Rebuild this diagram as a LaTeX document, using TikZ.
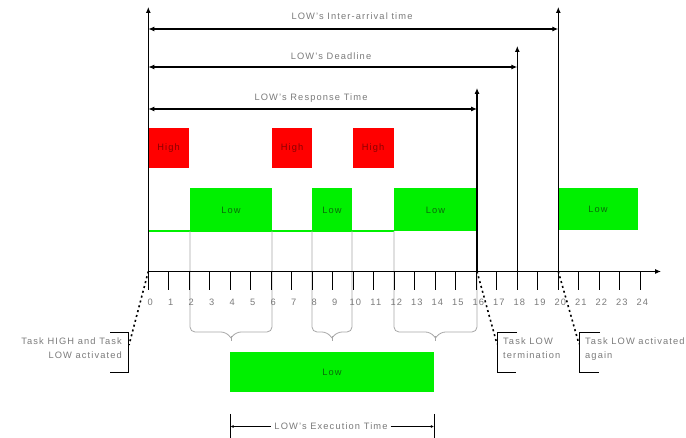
\documentclass[tikz,border=0pt]{standalone}
\usepackage{fontspec}
\setmainfont{Liberation Sans}[LetterSpace=12]
\usetikzlibrary{arrows.meta}
\definecolor{hired}{HTML}{FF0000}
\definecolor{logreen}{HTML}{00F000}
\definecolor{txtgray}{HTML}{7A7A7A}
\definecolor{hitxt}{HTML}{8A0000}
\definecolor{lotxt}{HTML}{0A6A0A}
\tikzset{
  lbl/.style={font=\fontsize{9.3}{11}\selectfont, text=txtgray, inner sep=1pt},
  hibox/.style={fill=hired, draw=none, font=\fontsize{9.3}{11}\selectfont, text=hitxt},
  lobox/.style={fill=logreen, draw=none, font=\fontsize{9.3}{11}\selectfont, text=lotxt},
  axisline/.style={line width=1.1pt, -{Latex[length=6pt,width=5pt]}},
  dimarrow/.style={line width=1.1pt, {Latex[length=6pt,width=5pt]}-{Latex[length=6pt,width=5pt]}},
  tickline/.style={line width=1pt},
  guide/.style={draw=black!35, line width=0.8pt},
  callout/.style={line width=1.6pt, dash pattern=on 2pt off 3pt},
  bracketline/.style={line width=1pt},
  note/.style={font=\fontsize{9.3}{13.5}\selectfont, text=txtgray, inner sep=0pt, align=left},
}
\begin{document}
\begin{tikzpicture}[x=1pt, y=-1pt]
\useasboundingbox (0,0) rectangle (686,438);
% coordinates
\coordinate (O) at (148.3,271.5);
\coordinate (Ytop) at (148.3,7);
\coordinate (Xend) at (661,271.5);
% green baseline
\draw[logreen, line width=1.2pt] (148.3,231) -- (394,231);
% grey guides and braces
\foreach \xa/\xb in {190/272, 312/352, 394/477}{
  \pgfmathsetmacro{\xm}{(\xa+\xb)/2}
  \draw[guide, rounded corners=5pt] (\xa,231) -- (\xa,332) -- (\xm-5,332) -- (\xm,338);
  \draw[guide, rounded corners=5pt] (\xb,231) -- (\xb,332) -- (\xm+5,332) -- (\xm,338);
  \draw[guide] (\xm,336) -- (\xm,341);
}
% boxes
\node[hibox, minimum width=41pt, minimum height=40pt] (h1) at (168.5,148) {High};
\node[hibox, minimum width=40pt, minimum height=40pt] (h2) at (292,148) {High};
\node[hibox, minimum width=41pt, minimum height=40pt] (h3) at (373,148) {High};
\node[lobox, minimum width=82pt, minimum height=43pt] (l1) at (231,210) {Low};
\node[lobox, minimum width=40pt, minimum height=43pt] (l2) at (332,210) {Low};
\node[lobox, minimum width=83pt, minimum height=43pt] (l3) at (435.5,210) {Low};
\node[lobox, minimum width=80pt, minimum height=42pt] (l4) at (598,209.5) {Low};
\node[lobox, minimum width=204pt, minimum height=40pt] (lx) at (332,372.5) {Low};
% axes
\draw[axisline] (O) -- (Ytop);
\draw[axisline] (O) -- (Xend);
% ticks and numbers
\foreach \i in {0,...,24}{
  \draw[tickline] (148.3+20.5*\i,271.5) -- (148.3+20.5*\i,290);
  \node[lbl] (n\i) at (148.3+20.5*\i+2,302.5) {\i};
}
% vertical markers
\coordinate (v16t) at (477,88);
\coordinate (v18t) at (517.3,46);
\coordinate (v20t) at (558.3,7);
\draw[axisline] (477,271.5) -- (v16t);
\draw[axisline] (517.3,271.5) -- (v18t);
\draw[axisline] (558.3,271.5) -- (v20t);
% dimension arrows
\coordinate (a1l) at (148.3,29);
\coordinate (a1r) at (558.3,29);
\coordinate (a2l) at (148.3,67);
\coordinate (a2r) at (517.3,67);
\coordinate (a3l) at (148.3,109);
\coordinate (a3r) at (477,109);
\draw[dimarrow] (a1l) -- (a1r);
\draw[dimarrow] (a2l) -- (a2r);
\draw[dimarrow] (a3l) -- (a3r);
\node[lbl] (t1) at (352,16) {LOW's Inter-arrival time};
\node[lbl] (t2) at (331,56) {LOW's Deadline};
\node[lbl] (t3) at (311,98) {LOW's Response Time};
% execution time
\coordinate (e1t) at (230,414);
\coordinate (e1b) at (230,438);
\coordinate (e2t) at (434.3,414);
\coordinate (e2b) at (434.3,438);
\draw[bracketline] (e1t) -- (e1b);
\draw[bracketline] (e2t) -- (e2b);
\node[lbl, fill=white, inner sep=3pt] (et) at (331,426.5) {LOW's Execution Time};
\draw[line width=1pt, {Latex[length=3pt,width=3pt]}-] (230.5,426.5) -- (et.west);
\draw[line width=1pt, -{Latex[length=3pt,width=3pt]}] (et.east) -- (433.8,426.5);
% callouts
\coordinate (c1) at (129,345);
\coordinate (c2) at (497,344);
\coordinate (c3) at (579,344);
\draw[callout] (O) -- (c1);
\draw[callout] (477,271.5) -- (c2);
\draw[callout] (558.3,271.5) -- (c3);
\draw[bracketline] (110,333) -- (128.5,333) -- (128.5,373) -- (110,373);
\draw[bracketline] (517,333) -- (497,333) -- (497,373) -- (516,373);
\draw[bracketline] (600,333) -- (579.3,333) -- (579.3,373) -- (599,373);
\node[note, anchor=north east, align=right] (k1) at (122,338) {Task HIGH and Task\\LOW activated};
\node[note, anchor=north west] (k2) at (503,338) {Task LOW\\termination};
\node[note, anchor=north west] (k3) at (585,338) {Task LOW activated\\again};
\end{tikzpicture}
\end{document}
